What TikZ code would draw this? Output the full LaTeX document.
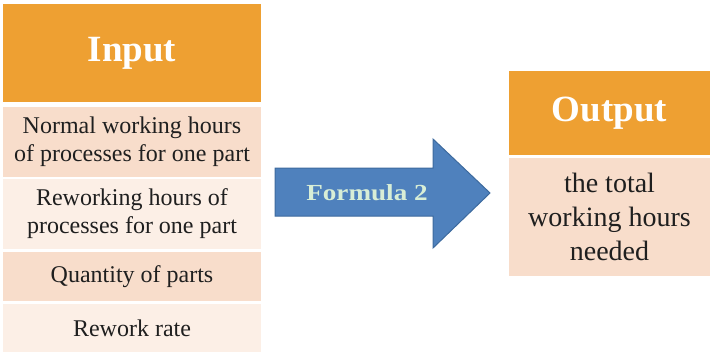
\documentclass[tikz,border=0pt]{standalone}
\usepackage{fontspec}
\usepackage{graphicx}
\setmainfont{Liberation Serif}
\definecolor{headorange}{HTML}{EEA032}
\definecolor{peachdark}{HTML}{F8DDCB}
\definecolor{peachlight}{HTML}{FCEFE6}
\definecolor{arrowblue}{HTML}{4F81BD}
\definecolor{arrowedge}{HTML}{3D6A9E}
\definecolor{mintext}{HTML}{D8EED6}
\begin{document}
\begin{tikzpicture}[x=1pt,y=-1pt,
  cell/.style={draw=white,line width=1.2pt,inner sep=0pt,align=center,
    font=\fontsize{24}{28}\selectfont,text=black!88},
  headcell/.style={cell,fill=headorange,text=white,font=\fontsize{37}{42}\selectfont\bfseries}]
\useasboundingbox (0,0) rectangle (712,354);
% input table
\node[headcell,minimum width=260pt,minimum height=100pt] (inhead) at (132,53) {Input};
\node[cell,fill=peachdark,minimum width=260pt,minimum height=71pt] (in1) at (132,142)
  {Normal working hours\\of processes for one part};
\node[cell,fill=peachlight,minimum width=260pt,minimum height=72pt] (in2) at (132,214)
  {Reworking hours of\\processes for one part};
\node[cell,fill=peachdark,minimum width=260pt,minimum height=51pt] (in3) at (132,276.5)
  {Quantity of parts};
\node[cell,fill=peachlight,minimum width=260pt,minimum height=50pt] (in4) at (132,328)
  {Rework rate};
% formula arrow
\draw[arrowedge,fill=arrowblue,line width=1pt,line join=miter]
  (275,168) -- (433,168) -- (433,139) -- (490,193) -- (433,248) -- (433,216)
  -- (275,216) -- cycle;
\node[font=\fontsize{23}{26}\selectfont\bfseries,text=mintext] (flabel) at (367,193)
  {\scalebox{1.18}[1]{Formula 2}};
% output table
\node[headcell,minimum width=203pt,minimum height=86pt] (outhead) at (609.5,113) {Output};
\node[cell,fill=peachdark,minimum width=203pt,minimum height=120pt,
  font=\fontsize{28}{34}\selectfont] (out1) at (609.5,217)
  {the total\\working hours\\needed};
\end{tikzpicture}
\end{document}
